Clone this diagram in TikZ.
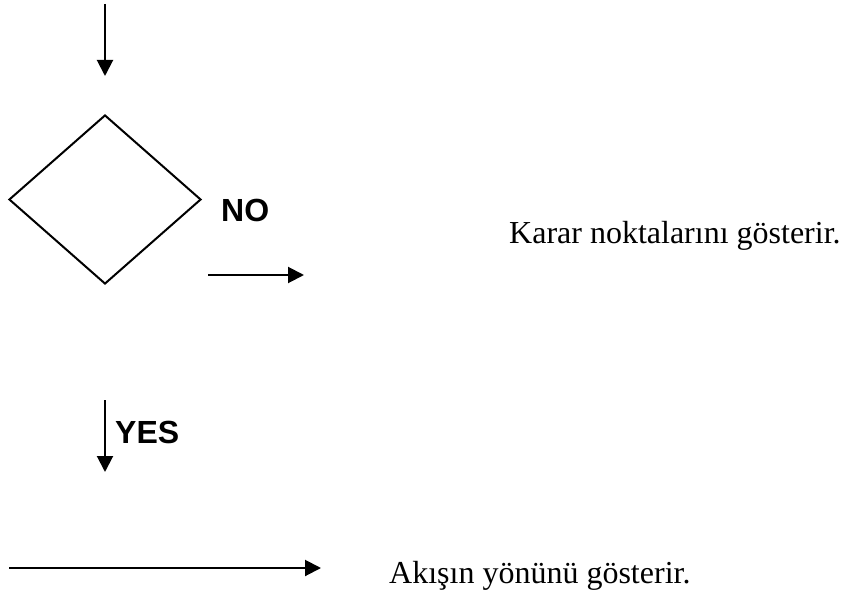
\documentclass[tikz,border=0pt]{standalone}
\usepackage{fontspec}
\setmainfont{Liberation Serif}
\newfontfamily\labelfont{Liberation Sans}
\usetikzlibrary{shapes.geometric,arrows.meta}
\begin{document}
\begin{tikzpicture}[x=1pt,y=-1pt,
  flow/.style={line width=2pt,-{Triangle[length=16pt,width=16pt]}},
  decision/.style={draw,line width=2pt,diamond,inner sep=0pt,
    minimum width=192pt,minimum height=169pt},
  branchlabel/.style={font=\labelfont\bfseries\fontsize{32}{36}\selectfont,
    inner sep=0pt,anchor=base west},
  note/.style={font=\fontsize{32}{36}\selectfont,inner sep=0pt,anchor=base west}]
  \useasboundingbox (0,0) rectangle (845,599);

  % decision symbol with its incoming arrow
  \coordinate (inS) at (105,4);
  \coordinate (inE) at (105,76);
  \draw[flow] (inS) -- (inE);
  \node[decision] (dec) at (105,199.5) {};

  % NO branch
  \node[branchlabel] (no) at (221,221) {NO};
  \coordinate (noS) at (208,275);
  \coordinate (noE) at (304,275);
  \draw[flow] (noS) -- (noE);

  % YES branch
  \coordinate (yesS) at (105,400);
  \coordinate (yesE) at (105,472);
  \draw[flow] (yesS) -- (yesE);
  \node[branchlabel] (yes) at (115,443) {YES};

  \node[note] (decnote) at (509,243) {Karar noktalarını gösterir.};

  % flow direction symbol
  \coordinate (fS) at (9,568);
  \coordinate (fE) at (321,568);
  \draw[flow] (fS) -- (fE);
  \node[note] (flownote) at (389,583) {Akışın yönünü gösterir.};
\end{tikzpicture}
\end{document}
